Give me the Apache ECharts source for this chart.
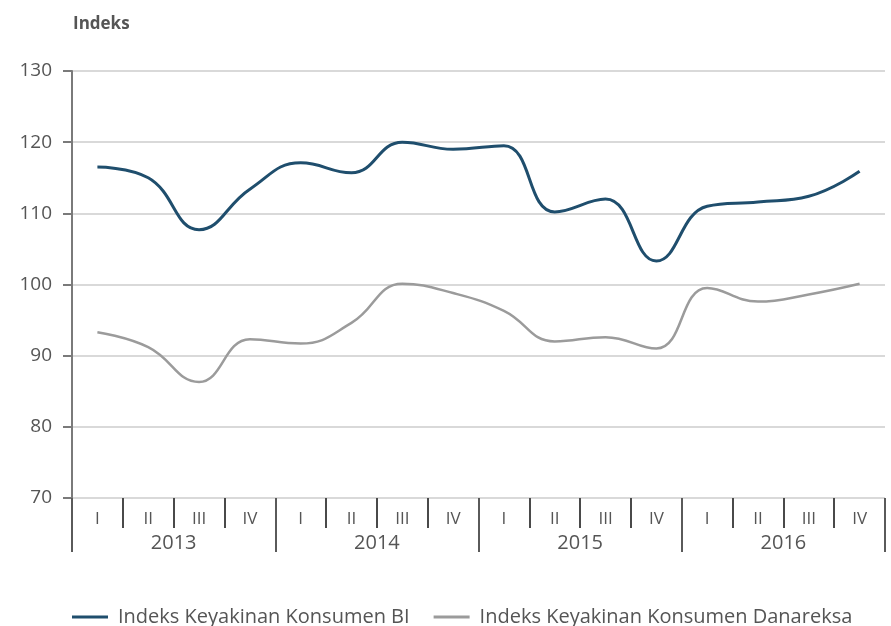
<!DOCTYPE html>
<html>
<head>
<meta charset="utf-8">
<script src="https://cdn.jsdelivr.net/npm/echarts@6/dist/echarts.min.js"></script>
<style>html,body{margin:0;padding:0;background:#fff}#c{width:891px;height:626px}</style>
</head>
<body>
<div id="c"></div>
<script>
const quarters = ['I','II','III','IV','I','II','III','IV','I','II','III','IV','I','II','III','IV'];
const years = ['2013','2014','2015','2016'];
const seriesNames = ['Indeks Keyakinan Konsumen BI', 'Indeks Keyakinan Konsumen Danareksa'];
const bi = [116.5, 115.0, 107.7, 113.4, 117.1, 115.7, 120.0, 119.0, 119.5, 110.2, 112.0, 103.3, 111.0, 111.6, 112.4, 115.9];
const danareksa = [93.3, 91.2, 86.3, 92.3, 91.7, 94.6, 100.1, 98.8, 96.3, 92.0, 92.6, 91.0, 99.5, 97.6, 98.6, 100.1];
const yTicks = {min: 70, max: 130, interval: 10};

const chart = echarts.init(document.getElementById('c'), null, {renderer: 'canvas'});
const FONT = 'Open Sans';
chart.setOption({
  animation: false,
  backgroundColor: '#fff',
  title: {
    text: 'Indeks', left: 73, top: 16, padding: 0,
    textStyle: {fontFamily: FONT, fontSize: 17, fontWeight: 'bold', color: '#555'}
  },
  grid: {left: 72, right: 6, top: 71, bottom: 128, containLabel: false},
  legend: {
    data: seriesNames, left: 67, top: 602, itemWidth: 36, itemHeight: 3, itemGap: 24,
    icon: 'rect',
    textStyle: {fontFamily: FONT, fontSize: 20, color: '#555', padding: [0, 0, 0, 5]}
  },
  xAxis: [
    {
      type: 'category', data: quarters, boundaryGap: true, position: 'bottom',
      axisLine: {show: false},
      axisTick: {show: true, length: 30, interval: 0, lineStyle: {color: '#4a4a4a', width: 2}},
      axisLabel: {interval: 0, margin: 13, fontFamily: FONT, fontSize: 17, color: '#555'},
      splitLine: {show: false}
    },
    {
      type: 'category', data: years, boundaryGap: true, position: 'bottom', gridIndex: 0,
      axisLine: {show: false},
      axisTick: {show: true, length: 54, interval: 0, lineStyle: {color: '#5a5a5a', width: 2}},
      axisLabel: {interval: 0, margin: 35, fontFamily: FONT, fontSize: 20, color: '#555'},
      splitLine: {show: false}
    }
  ],
  yAxis: {
    type: 'value', min: yTicks.min, max: yTicks.max, interval: yTicks.interval,
    axisLine: {show: true, lineStyle: {color: '#7a7a7a', width: 2}},
    axisTick: {show: true, length: 9, lineStyle: {color: '#7a7a7a', width: 2}},
    axisLabel: {margin: 20, fontFamily: FONT, fontSize: 19, color: '#555'},
    splitLine: {show: true, lineStyle: {color: '#d9d9d9', width: 2}}
  },
  series: [
    {
      name: seriesNames[0], type: 'line', data: bi, xAxisIndex: 0, smooth: 0.45,
      showSymbol: false, symbol: 'none',
      lineStyle: {color: '#1f4e6d', width: 3}, itemStyle: {color: '#1f4e6d'}, z: 3
    },
    {
      name: seriesNames[1], type: 'line', data: danareksa, xAxisIndex: 0, smooth: 0.45,
      showSymbol: false, symbol: 'none',
      lineStyle: {color: '#9b9b9b', width: 2.5}, itemStyle: {color: '#9b9b9b'}, z: 2
    }
  ]
});
</script>
</body>
</html>
